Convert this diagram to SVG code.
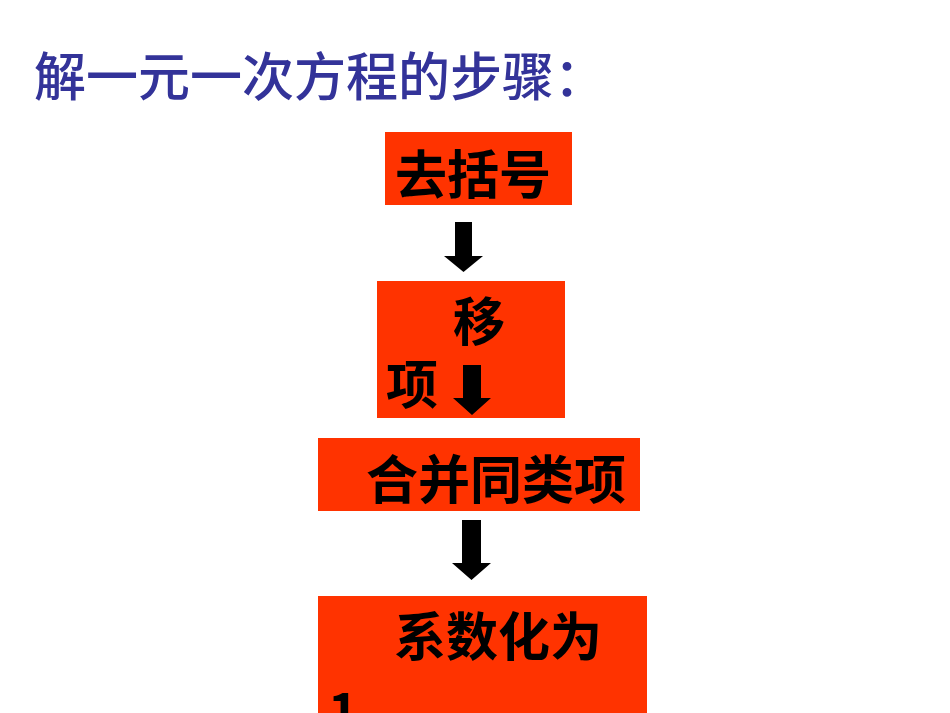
<svg xmlns="http://www.w3.org/2000/svg" width="950" height="713" viewBox="0 0 950 713">
<style>
.box{fill:#FF3300}
.t{font-family:"Noto Sans CJK SC","Liberation Sans",sans-serif;font-weight:bold;font-size:52px;fill:#000}
.title{font-family:"Noto Sans CJK SC",sans-serif;font-weight:500;font-size:52px;fill:#333399}
.arr{fill:#000}
</style>
<rect width="950" height="713" fill="#fff"/>
<text class="title" x="34" y="96">解一元一次方程的步骤：</text>
<g id="n1"><rect class="box" x="385" y="132" width="187" height="73"/><text class="t" x="395" y="194">去括号</text></g>
<g id="n2"><rect class="box" x="377" y="281" width="188" height="137"/><text class="t" x="453" y="341">移</text><text class="t" x="386" y="404">项</text></g>
<g id="n3"><rect class="box" x="318" y="438" width="322" height="73"/><text class="t" x="366" y="499">合并同类项</text></g>
<g id="n4"><rect class="box" x="318" y="596" width="329" height="120"/><text class="t" x="394" y="656">系数化为</text><text class="t" x="328" y="730">1</text></g>
<g id="connectors">
<path class="arr" d="M455 222H472V256H483L463.5 272L444 256H455Z"/>
<path class="arr" d="M463 365H481V398H491L472 415L453 398H463Z"/>
<path class="arr" d="M462 520H481V563H491L471.5 580L452 563H462Z"/>
</g>
</svg>
